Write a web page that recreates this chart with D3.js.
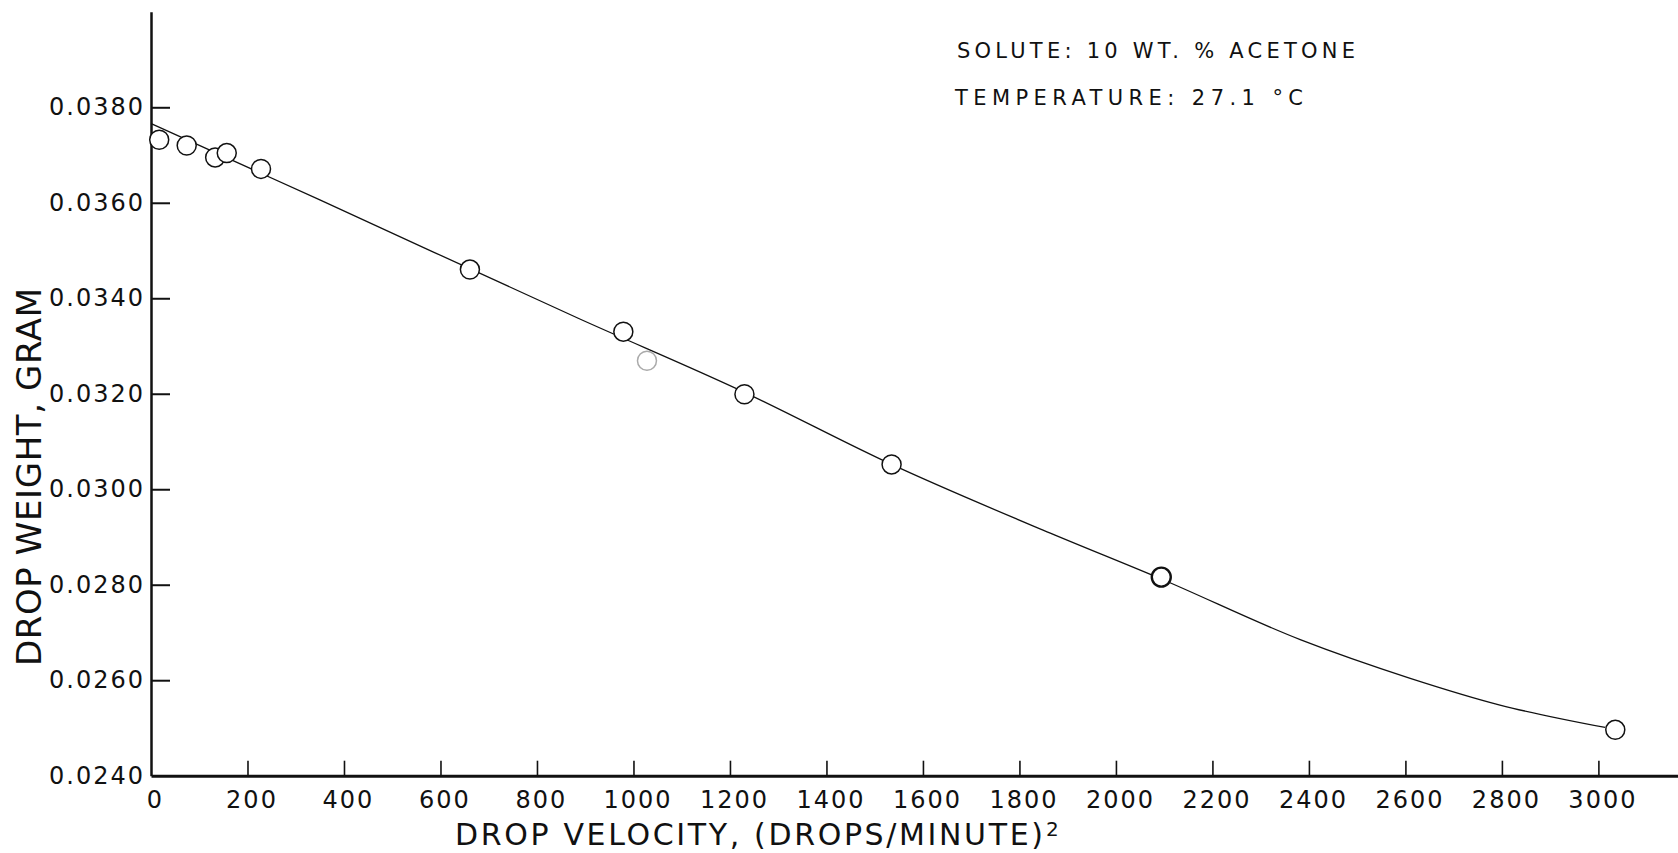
<!DOCTYPE html>
<html>
<head>
<meta charset="utf-8">
<script src="https://cdn.jsdelivr.net/npm/d3@7"></script>
<style>
  html, body { margin: 0; padding: 0; background: #fff; }
  svg { display: block; }
  .axis-text { font-family: 'DejaVu Sans', sans-serif; font-size: 24px; letter-spacing: 2px; fill: #111; }
  .title-text { font-family: 'DejaVu Sans', sans-serif; fill: #111; }
</style>
</head>
<body>
<div id="chart"></div>
<script>
// values
const velocity = [17, 74, 133, 157, 228, 661, 979, 1028, 1230, 1535, 2094, 3035];
const dropWeight = [0.03732, 0.03720, 0.03695, 0.03704, 0.03671, 0.03460, 0.03330, 0.03269, 0.03199, 0.03052, 0.02816, 0.02496];

// hand-drawn fitted curve
const curveVelocity = [0, 350, 890, 1230, 1535, 1864, 2094, 2382, 2610, 2796, 3014];
const curveWeight = [0.03766, 0.03606, 0.03356, 0.03203, 0.03052, 0.02908, 0.02812, 0.02685, 0.02604, 0.02548, 0.02501];

const xTicks = [0, 200, 400, 600, 800, 1000, 1200, 1400, 1600, 1800, 2000, 2200, 2400, 2600, 2800, 3000];
const yTicks = [0.0240, 0.0260, 0.0280, 0.0300, 0.0320, 0.0340, 0.0360, 0.0380];

const notes = ['SOLUTE: 10 WT. % ACETONE', 'TEMPERATURE: 27.1 °C'];

const width = 1678, height = 853;

const x = d3.scaleLinear().domain([0, 3165]).range([151, 1678]);
const y = d3.scaleLinear().domain([0.0240, 0.0400]).range([775.7, 11.8]);

const svg = d3.select('#chart').append('svg')
  .attr('width', width)
  .attr('height', height);

// y axis, ticks point into the plot
const axisY = svg.append('g')
  .attr('transform', 'translate(' + x(0) + ',0)')
  .call(d3.axisLeft(y)
    .tickValues(yTicks)
    .tickFormat(d3.format('.4f'))
    .tickSizeInner(-19)
    .tickSizeOuter(0)
    .tickPadding(6));

axisY.select('.domain').attr('stroke', '#111').attr('stroke-width', 2.5);
axisY.selectAll('g.tick line')
  .attr('stroke', '#111')
  .attr('stroke-width', 2)
  .attr('opacity', d => d === 0.024 ? 0 : 1);
axisY.selectAll('g.tick text').attr('class', 'axis-text').attr('fill', null);

// x axis
const axisX = svg.append('g')
  .attr('transform', 'translate(0,' + y(0.0240) + ')')
  .call(d3.axisBottom(x)
    .tickValues(xTicks)
    .tickFormat(d3.format('d'))
    .tickSizeInner(-15)
    .tickSizeOuter(0)
    .tickPadding(15));

axisX.select('.domain').attr('stroke', '#111').attr('stroke-width', 3);
axisX.selectAll('g.tick line')
  .attr('stroke', '#111')
  .attr('stroke-width', 1.6)
  .attr('opacity', d => d === 0 ? 0 : 1);
axisX.selectAll('g.tick text')
  .attr('class', 'axis-text')
  .attr('fill', null)
  .attr('dx', '4');

// fitted curve
const curveData = curveVelocity.map((v, i) => ({v: v, w: curveWeight[i]}));
const line = d3.line()
  .x(d => x(d.v))
  .y(d => y(d.w))
  .curve(d3.curveMonotoneX);

svg.append('path')
  .datum(curveData)
  .attr('fill', 'none')
  .attr('stroke', '#111')
  .attr('stroke-width', 1.3)
  .attr('d', line);

// measured points, open circles
const points = velocity.map((v, i) => ({v: v, w: dropWeight[i]}));
svg.selectAll('circle.pt')
  .data(points)
  .enter().append('circle')
  .attr('class', 'pt')
  .attr('cx', d => x(d.v))
  .attr('cy', d => y(d.w))
  .attr('r', 9.5)
  .attr('fill', '#fff')
  .attr('stroke', (d, i) => i === 7 ? '#aaa' : '#111')
  .attr('stroke-width', (d, i) => i === 10 ? 2.4 : 1.5);

// axis titles
svg.append('text')
  .attr('class', 'title-text')
  .attr('x', 455)
  .attr('y', 845)
  .attr('font-size', 30)
  .attr('textLength', 588)
  .attr('lengthAdjust', 'spacing')
  .text('DROP VELOCITY, (DROPS/MINUTE)');

svg.append('text')
  .attr('class', 'title-text')
  .attr('x', 1046)
  .attr('y', 836)
  .attr('font-size', 20)
  .text('2');

svg.append('text')
  .attr('class', 'title-text')
  .attr('transform', 'translate(41,477) rotate(-90)')
  .attr('text-anchor', 'middle')
  .attr('font-size', 34)
  .attr('textLength', 378)
  .attr('lengthAdjust', 'spacing')
  .text('DROP WEIGHT, GRAM');

// conditions note, top right
const noteLayout = [{x: 957, y: 58, len: 398}, {x: 955, y: 105, len: 348}];
svg.selectAll('text.note')
  .data(notes)
  .enter().append('text')
  .attr('class', 'note title-text')
  .attr('x', (d, i) => noteLayout[i].x)
  .attr('y', (d, i) => noteLayout[i].y)
  .attr('font-size', 21)
  .attr('textLength', (d, i) => noteLayout[i].len)
  .attr('lengthAdjust', 'spacing')
  .text(d => d);
</script>
</body>
</html>
